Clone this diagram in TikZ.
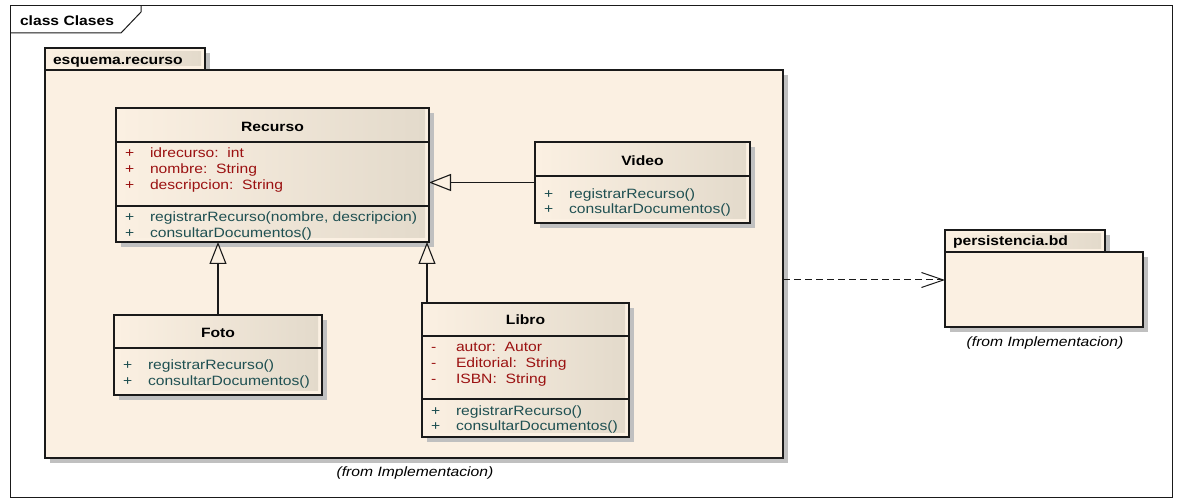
\documentclass[tikz,border=0pt]{standalone}
\usepackage{fontspec}
\newfontfamily\umlfont{Liberation Sans}[FakeStretch=1.16]
\usetikzlibrary{shadows,arrows.meta}

\definecolor{pkgcream}{HTML}{FBF0E2}
\definecolor{clsbeige}{HTML}{E3DACB}
\definecolor{shadowgray}{HTML}{C0C0C0}
\definecolor{attrred}{HTML}{9B1111}
\definecolor{opteal}{HTML}{1F5052}
\definecolor{edgeblack}{HTML}{1A1A1A}

\tikzset{
  every node/.style={font=\umlfont\fontsize{13.5}{16}\selectfont, inner sep=0pt, outer sep=0pt},
  umlbox/.style={draw=edgeblack, line width=1.3pt, fill=pkgcream, anchor=north west,
    drop shadow={shadow xshift=5pt, shadow yshift=-5pt, fill=shadowgray, opacity=1}},
  divider/.style={draw=edgeblack, line width=1.3pt},
  clstitle/.style={anchor=base, font=\umlfont\bfseries\fontsize{13.5}{16}\selectfont},
  pkglabel/.style={anchor=base west, font=\umlfont\bfseries\fontsize{13.5}{16}\selectfont},
  attrtxt/.style={anchor=base west, text=attrred},
  optxt/.style={anchor=base west, text=opteal},
  fromtxt/.style={anchor=base, font=\umlfont\itshape\fontsize{13.5}{16}\selectfont},
  gen/.style={draw=edgeblack, line width=1.1pt,
    -{Triangle[length=22pt, width=17pt, fill=pkgcream, line width=1.1pt]}},
  dep/.style={draw=edgeblack, line width=1pt, dash pattern=on 7pt off 4pt,
    -{Straight Barb[length=22pt, width=15pt, line width=1pt]}},
}

\begin{document}
\begin{tikzpicture}[x=1pt, y=-1pt]
  \useasboundingbox (0,0) rectangle (1181,502);
  \fill[white] (0,0) rectangle (1181,502);

  % diagram frame with its title tab
  \node[draw=edgeblack, line width=1pt, anchor=north west, minimum width=1162pt, minimum height=491pt] (frame) at (10,6) {};
  \draw[edgeblack, line width=1pt] (10,33) -- (121,33) -- (141,12) -- (141,6);
  \node[pkglabel] (frametitle) at (20,26) {class Clases};

  % package esquema.recurso
  \node[umlbox, minimum width=160pt, minimum height=22pt] (pkgtab) at (45,48) {};
  \shade[left color=pkgcream, right color=clsbeige] (48,52) rectangle (201,66);
  \node[pkglabel] (pkgname) at (53,65) {esquema.recurso};
  \node[umlbox, minimum width=738pt, minimum height=388pt] (pkg) at (45,70) {};
  \node[fromtxt] (pkgfrom) at (415,476) {(from Implementacion)};

  % package persistencia.bd
  \node[umlbox, minimum width=160pt, minimum height=22pt] (bdtab) at (945,230) {};
  \shade[left color=pkgcream, right color=clsbeige] (948,234) rectangle (1101,249);
  \node[pkglabel] (bdname) at (953,246) {persistencia.bd};
  \node[umlbox, minimum width=198pt, minimum height=75pt] (bd) at (945,252) {};
  \node[fromtxt] (bdfrom) at (1045,347) {(from Implementacion)};

  % class Recurso
  \node[umlbox, minimum width=313pt, minimum height=134pt] (recurso) at (116,108) {};
  \shade[left color=pkgcream, middle color=pkgcream!75!clsbeige, right color=clsbeige] (118,110) rectangle (425,238);
  \draw[divider] (recurso.west |- 0,142) -- (recurso.east |- 0,142);
  \draw[divider] (recurso.west |- 0,206) -- (recurso.east |- 0,206);
  \node[clstitle] (recursoname) at (272.5,132) {Recurso};
  \foreach \yy/\mm/\tt in {158/+/{idrecurso:\ \ int}, 174/+/{nombre:\ \ String}, 190/+/{descripcion:\ \ String}} {
    \node[attrtxt] (recursoav\yy) at (125,\yy) {\mm};
    \node[attrtxt] (recursoa\yy) at (150,\yy) {\tt};
  }
  \foreach \yy/\mm/\tt in {222/+/{registrarRecurso(nombre, descripcion)}, 238/+/{consultarDocumentos()}} {
    \node[optxt] (recursoov\yy) at (125,\yy) {\mm};
    \node[optxt] (recursoo\yy) at (150,\yy) {\tt};
  }

  % class Video
  \node[umlbox, minimum width=215pt, minimum height=81pt] (video) at (535,142) {};
  \shade[left color=pkgcream, middle color=pkgcream!75!clsbeige, right color=clsbeige] (537,144) rectangle (746,219);
  \draw[divider] (video.west |- 0,176) -- (video.east |- 0,176);
  \node[clstitle] (videoname) at (642.5,166) {Video};
  \foreach \yy/\mm/\tt in {199/+/{registrarRecurso()}, 214/+/{consultarDocumentos()}} {
    \node[optxt] (videoov\yy) at (544,\yy) {\mm};
    \node[optxt] (videoo\yy) at (569,\yy) {\tt};
  }

  % class Foto
  \node[umlbox, minimum width=208pt, minimum height=80pt] (foto) at (114,315) {};
  \shade[left color=pkgcream, middle color=pkgcream!75!clsbeige, right color=clsbeige] (116,317) rectangle (318,391);
  \draw[divider] (foto.west |- 0,348) -- (foto.east |- 0,348);
  \node[clstitle] (fotoname) at (218,338) {Foto};
  \foreach \yy/\mm/\tt in {370/+/{registrarRecurso()}, 386/+/{consultarDocumentos()}} {
    \node[optxt] (fotoov\yy) at (123,\yy) {\mm};
    \node[optxt] (fotoo\yy) at (148,\yy) {\tt};
  }

  % class Libro
  \node[umlbox, minimum width=207pt, minimum height=134pt] (libro) at (422,303) {};
  \shade[left color=pkgcream, middle color=pkgcream!75!clsbeige, right color=clsbeige] (424,305) rectangle (625,433);
  \draw[divider] (libro.west |- 0,336) -- (libro.east |- 0,336);
  \draw[divider] (libro.west |- 0,399) -- (libro.east |- 0,399);
  \node[clstitle] (libroname) at (525.5,325) {Libro};
  \foreach \yy/\mm/\tt in {352/-/{autor:\ \ Autor}, 368/-/{Editorial:\ \ String}, 384/-/{ISBN:\ \ String}} {
    \node[attrtxt] (libroav\yy) at (431,\yy) {\mm};
    \node[attrtxt] (libroa\yy) at (456,\yy) {\tt};
  }
  \foreach \yy/\mm/\tt in {416/+/{registrarRecurso()}, 431/+/{consultarDocumentos()}} {
    \node[optxt] (libroov\yy) at (431,\yy) {\mm};
    \node[optxt] (libroo\yy) at (456,\yy) {\tt};
  }

  % generalizations
  \draw[gen] (foto.north) -- (foto.north |- recurso.south);
  \draw[gen] ([xshift=5pt]libro.north west) -- ([xshift=5pt]libro.north west |- recurso.south);
  \draw[gen] (video.west) -- (video.west -| recurso.east);

  % package dependency
  \coordinate (depy) at (0,280);
  \draw[dep] (pkg.east |- depy) -- (bd.west |- depy);
\end{tikzpicture}
\end{document}
